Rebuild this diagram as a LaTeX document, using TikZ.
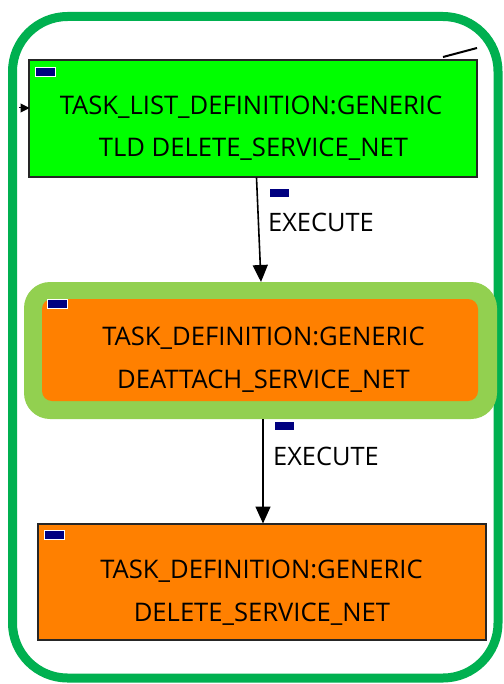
\documentclass[tikz,border=0pt]{standalone}
\usepackage{fontspec}
\setmainfont{Open Sans}
\usetikzlibrary{arrows.meta}
\definecolor{frameGreen}{RGB}{0,176,80}
\definecolor{tldGreen}{RGB}{0,255,0}
\definecolor{taskOrange}{RGB}{255,128,0}
\definecolor{selGreen}{RGB}{146,208,80}
\definecolor{tagNavy}{RGB}{0,0,128}
\tikzset{
  boxtext/.style={inner sep=0pt, font=\fontsize{25.6}{30}\selectfont, anchor=base},
  lbltext/.style={inner sep=0pt, font=\fontsize{25.4}{30}\selectfont, anchor=base west},
  tag/.style={fill=tagNavy, draw=white, line width=0.8pt, minimum width=20pt, minimum height=9pt, inner sep=0pt},
  flow/.style={line width=1.6pt, -{Triangle[width=15pt,length=17pt]}},
  plainbox/.style={draw=black!85, line width=1.2pt, inner sep=0pt},
}
\begin{document}
\begin{tikzpicture}[x=1pt,y=-1pt]
\useasboundingbox (0,0) rectangle (503,684);
\fill[white] (0,0) rectangle (503,684);

% outer frame
\draw[frameGreen, line width=9pt, rounded corners=55pt] (12.5,16.5) rectangle (498,678);

% task list definition box
\node[plainbox, fill=tldGreen, minimum width=448pt, minimum height=117pt] (tld) at (253,118.5) {};
\node[tag] (tldtag) at (45,72) {};
\node[boxtext] (tldl1) at (251,115) {TASK\_LIST\_DEFINITION:GENERIC};
\node[boxtext] (tldl2) at (253.5,157) {TLD DELETE\_SERVICE\_NET};

% incoming edge stubs
\coordinate (ina) at (19,108);
\coordinate (inb) at (29.5,108);
\draw[line width=1pt, -{Triangle[width=9pt,length=9pt]}] (ina) -- (inb);
\coordinate (outa) at (443,57);
\coordinate (outb) at (477,48);
\draw[line width=2pt] (outa) -- (outb);

% selected task definition
\node[fill=selGreen, rounded corners=26pt, minimum width=473pt, minimum height=137pt, inner sep=0pt] (selring) at (260.5,350.5) {};
\node[fill=taskOrange, rounded corners=10pt, minimum width=436pt, minimum height=102pt, inner sep=0pt] (deattach) at (260,350) {};
\node[tag] (deattag) at (57,304) {};
\node[boxtext] (deatl1) at (263.5,345) {TASK\_DEFINITION:GENERIC};
\node[boxtext] (deatl2) at (263.5,388) {DEATTACH\_SERVICE\_NET};

% delete task definition
\node[plainbox, fill=taskOrange, minimum width=448pt, minimum height=116pt] (delete) at (262,582) {};
\node[tag] (deltag) at (54,534.5) {};
\node[boxtext] (dell1) at (261.5,578) {TASK\_DEFINITION:GENERIC};
\node[boxtext] (dell2) at (262,621) {DELETE\_SERVICE\_NET};

% execute edges
\coordinate (e1s) at (256.5,177.5);
\coordinate (e1e) at (261,282);
\draw[flow] (e1s) -- (e1e);
\node[tag] (e1tag) at (279.5,192.5) {};
\node[lbltext] (e1lbl) at (268,232) {EXECUTE};

\coordinate (e2s) at (263,419);
\coordinate (e2e) at (263,523.5);
\draw[flow] (e2s) -- (e2e);
\node[tag] (e2tag) at (284,425.5) {};
\node[lbltext] (e2lbl) at (273,465) {EXECUTE};
\end{tikzpicture}
\end{document}
